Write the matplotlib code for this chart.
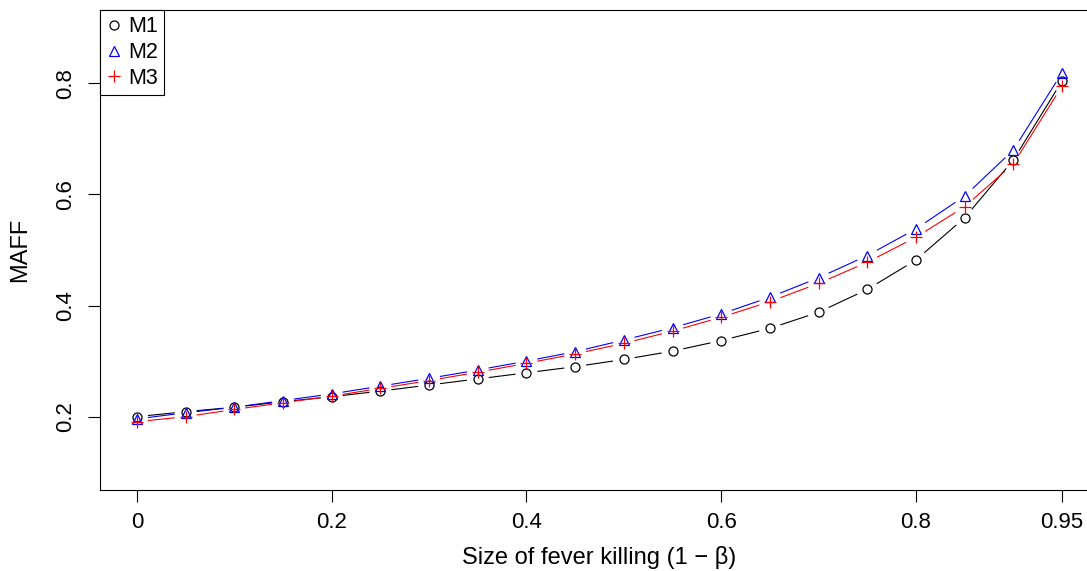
import numpy as np
import matplotlib
matplotlib.use('Agg')
import matplotlib.pyplot as plt

plt.rcParams['font.family'] = ['Liberation Sans', 'DejaVu Sans']

# Datos
x = [0, 0.05, 0.10, 0.15, 0.20, 0.25, 0.30, 0.35, 0.40, 0.45,
     0.50, 0.55, 0.60, 0.65, 0.70, 0.75, 0.80, 0.85, 0.90, 0.95]
m1 = [0.200, 0.209, 0.217, 0.227, 0.236, 0.246, 0.257, 0.268, 0.279, 0.290,
      0.303, 0.318, 0.337, 0.359, 0.388, 0.429, 0.482, 0.558, 0.662, 0.804]
m2 = [0.196, 0.207, 0.217, 0.229, 0.241, 0.255, 0.269, 0.284, 0.300, 0.317,
      0.338, 0.360, 0.385, 0.415, 0.450, 0.490, 0.538, 0.597, 0.680, 0.819]
m3 = [0.191, 0.200, 0.213, 0.225, 0.237, 0.251, 0.265, 0.280, 0.296, 0.313,
      0.332, 0.354, 0.379, 0.407, 0.440, 0.478, 0.523, 0.578, 0.655, 0.795]
series = [('M1', m1, 'black', 'o'), ('M2', m2, 'blue', '^'), ('M3', m3, 'red', '+')]

xticks = [0, 0.2, 0.4, 0.6, 0.8, 0.95]
xticklabels = ['0', '0.2', '0.4', '0.6', '0.8', '0.95']
yticks = [0.2, 0.4, 0.6, 0.8]
yticklabels = ['0.2', '0.4', '0.6', '0.8']

fig = plt.figure(figsize=(10.87, 5.71), dpi=100)
ax = fig.add_axes([100 / 1087, 81 / 571, 999 / 1087, 480 / 571])
ax.set_xlim(-0.038, 0.988)
ax.set_ylim(0.068, 0.932)


# lineas tipo "b" de R: segmentos con hueco alrededor de cada punto
def gapped(ax, xs, ys, color, gap=11):
    pts = ax.transData.transform(np.column_stack([xs, ys]))
    inv = ax.transData.inverted()
    for p0, p1 in zip(pts[:-1], pts[1:]):
        d = np.hypot(*(p1 - p0))
        if d <= 2 * gap:
            continue
        u = (p1 - p0) / d
        seg = inv.transform(np.array([p0 + u * gap, p1 - u * gap]))
        ax.plot(seg[:, 0], seg[:, 1], color=color, lw=0.8, solid_capstyle='butt')


sizes = {'o': 6.5, '^': 7.5, '+': 8.5}
for name, ys, col, mk in series:
    gapped(ax, x, ys, col)
    if mk == '+':
        ax.plot(x, ys, ls='none', marker=mk, ms=sizes[mk], mec=col, mew=0.9, label=name)
    else:
        ax.plot(x, ys, ls='none', marker=mk, ms=sizes[mk], mfc='none', mec=col, mew=0.9, label=name)

ax.set_xticks(xticks)
ax.set_xticklabels(xticklabels)
ax.set_yticks(yticks)
ax.set_yticklabels(yticklabels, rotation=90, va='center')
ax.tick_params(axis='both', labelsize=16, length=8.5, width=0.8, direction='out')
ax.tick_params(axis='x', pad=7)
ax.tick_params(axis='y', pad=9)
for s in ax.spines.values():
    s.set_linewidth(0.8)

ax.set_xlabel('Size of fever killing (1 \u2212 \u03b2)', fontsize=17, labelpad=10)
ax.set_ylabel('MAFF', fontsize=17, labelpad=17)

leg = ax.legend(loc='upper left', borderaxespad=0, fontsize=15.5, handlelength=0.7,
                handletextpad=0.3, labelspacing=0.22, borderpad=0.3,
                fancybox=False, framealpha=1, edgecolor='black')
leg.get_frame().set_linewidth(0.8)

plt.savefig('out.png', dpi=100)
